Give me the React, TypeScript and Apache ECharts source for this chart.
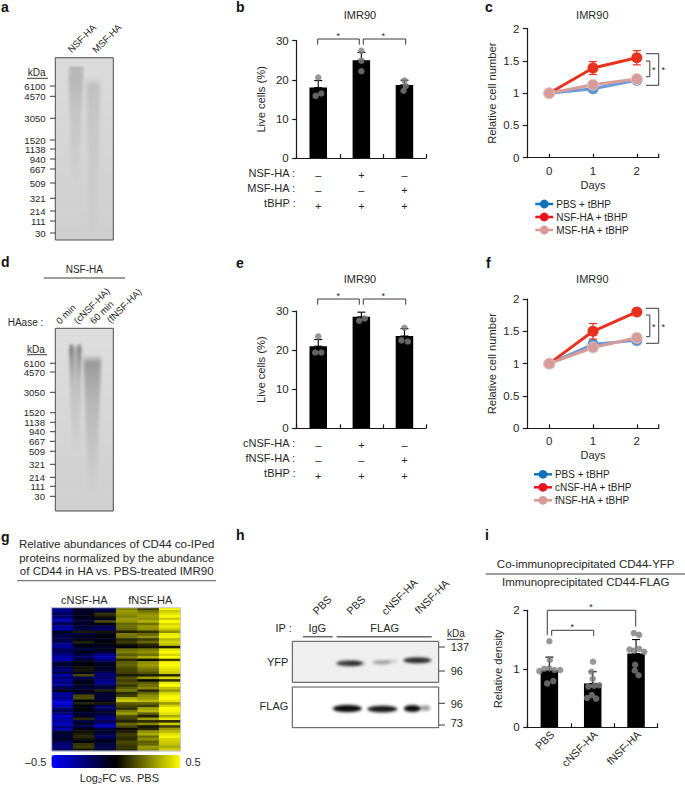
import React, { useEffect, useRef } from "react";
import * as echarts from "echarts";

const FONT = '"Liberation Sans", Arial, sans-serif';
const INK = "#262626";

// ---- panel b
const bCats = ["–\n–\n+", "+\n–\n+", "–\n+\n+"];
const bMeans = [18, 25, 18.7];
const bErr = [1.8, 2.0, 1.2];
const bDots = [[0, 20.6], [-0.06, 15.9], [0.07, 16.5], [1, 27.4], [1, 24.9], [1, 22.2], [2, 19.8], [2.03, 18.4], [1.98, 17.2]];
// ---- panel e
const eCats = ["–\n–\n+", "+\n–\n+", "–\n+\n+"];
const eMeans = [21, 28.5, 23.6];
const eErr = [1.7, 1.2, 1.9];
const eDots = [[0, 23.5], [-0.07, 19.4], [0.07, 19.4], [1.01, 30.2], [0.95, 27.5], [1.08, 28.1], [2, 25.7], [1.93, 22.5], [2.08, 22.2]];
// ---- panel c
const days = ["0", "1", "2"];
const cPbs = [1, 1.07, 1.2];
const cNsf = [1, 1.39, 1.55];
const cMsf = [1, 1.13, 1.22];
const cPbsErr = [0, 0.03, 0.03];
const cNsfErr = [0, 0.1, 0.11];
const cMsfErr = [0, 0.03, 0.03];
// ---- panel f
const fPbs = [1, 1.3, 1.36];
const fCnsf = [1, 1.5, 1.8];
const fFnsf = [1, 1.25, 1.4];
const fPbsErr = [0, 0.06, 0.04];
const fCnsfErr = [0, 0.12, 0.03];
const fFnsfErr = [0, 0.03, 0.03];
// ---- panel i
const iCats = ["PBS", "cNSF-HA", "fNSF-HA"];
const iMeans = [0.97, 0.75, 1.26];
const iErr = [0.23, 0.2, 0.24];
const iDots = [
  [0, 1.47], [0.01, 1.15], [-0.23, 0.96], [-0.12, 1.0], [0, 1.01], [0.12, 0.98], [0.25, 0.98], [-0.05, 0.75], [0.09, 0.79],
  [1.01, 1.12], [0.97, 0.95], [1, 0.83], [0.9, 0.7], [1.03, 0.71], [1.15, 0.72], [0.98, 0.55], [0.87, 0.5], [1.08, 0.49],
  [1.95, 1.61], [2.07, 1.58], [1.85, 1.33], [1.95, 1.31], [2.07, 1.34], [2.19, 1.29], [1.98, 1.07], [1.97, 0.97], [2.06, 0.89],
];
// ---- panel g heatmap, hundredths of log2FC, top row first
const hmC1 = [-24,-27,-18,-20,-32,-30,-14,-30,-34,-6,-12,-13,-14,-16,-28,-30,-16,-18,-26,-32,-34,-10,-11,-16,-24,-13,-32,-22,-30,-24,-28,-14,-6,-28,-32,-26,-38,-42,-36,-22,-16,-24,-38,-32,-30,-40,-24,-34,-12,-10,-11,-6,-16,-22,-24,-18];
const hmC2 = [-5,-8,-6,-5,-6,-10,-6,-12,-14,5,-12,-8,-5,6,-4,-6,-12,-5,-15,-20,-8,-3,-2,3,4,-6,14,-16,-6,-4,-8,-12,-5,-8,14,15,-4,6,-3,-2,-4,-10,-8,8,-12,-8,-14,-4,3,5,8,4,-2,10,12,4];
const hmC3 = [-18,-12,10,5,-6,14,-3,-15,-22,4,-5,-3,-6,-2,-3,-8,-5,-12,-28,-32,-24,-10,-5,-8,-6,-18,-22,-20,-25,-30,-15,-12,6,-8,-10,-12,-6,4,-18,-22,-8,-12,-20,-25,-15,-30,-35,-12,-8,-14,-20,-10,-6,-12,-16,-8];
const hmF1 = [25,30,28,25,30,28,20,22,20,6,24,22,8,12,4,-3,22,25,18,24,8,18,20,15,14,12,5,16,12,16,10,18,22,8,12,34,40,18,14,8,24,30,16,12,6,20,14,2,5,12,10,8,14,12,10,8];
const hmF2 = [12,22,28,30,28,34,22,30,28,10,20,28,12,20,8,4,24,28,22,34,2,28,30,26,22,16,6,30,2,18,22,26,8,20,28,30,36,20,12,32,36,18,6,30,8,26,4,8,28,34,22,28,18,20,30,26];
const hmF3 = [48,40,45,48,40,50,42,46,40,28,46,48,36,42,38,6,46,50,42,50,12,48,50,46,44,40,8,42,10,46,50,38,30,42,48,50,45,30,42,50,48,44,34,46,8,40,12,30,36,44,48,42,40,38,34,40];
const hmCols = [hmC1, hmC2, hmC3, hmF1, hmF2, hmF3];
const hmColNames = ["c1", "c2", "c3", "f1", "f2", "f3"];

// ---- gel markers
const kdaLabels = ["6100", "4570", "3050", "1520", "1138", "940", "667", "509", "321", "214", "111", "30"];
const kdaYa = [86, 96.3, 118.3, 140, 149, 159, 169, 183, 198.3, 211, 221, 233];
const kdaYd = [363.3, 372, 392.3, 412.7, 422.3, 431.7, 441.3, 451.3, 464.3, 477.3, 486.3, 496.3];

type Lane = { xl: number; xr: number; y0: number; xlb: number; xrb: number; y1: number; a: number; blur: number };

function paintLanes(w: number, h: number, lanes: Lane[], base: [string, string]) {
  const S = 3;
  const c = document.createElement("canvas");
  c.width = w * S;
  c.height = h * S;
  const x = c.getContext("2d")!;
  const bg = x.createLinearGradient(0, 0, 0, h * S);
  bg.addColorStop(0, base[0]);
  bg.addColorStop(1, base[1]);
  x.fillStyle = bg;
  x.fillRect(0, 0, w * S, h * S);
  for (const l of lanes) {
    const g = x.createLinearGradient(0, l.y0 * S, 0, l.y1 * S);
    g.addColorStop(0, "rgba(40,40,40,0)");
    g.addColorStop(0.05, `rgba(40,40,40,${l.a})`);
    g.addColorStop(0.35, `rgba(40,40,40,${l.a * 0.5})`);
    g.addColorStop(1, "rgba(40,40,40,0)");
    x.filter = `blur(${l.blur * S}px)`;
    x.fillStyle = g;
    x.beginPath();
    x.moveTo(l.xl * S, l.y0 * S);
    x.lineTo(l.xr * S, l.y0 * S);
    x.lineTo(l.xrb * S, l.y1 * S);
    x.lineTo(l.xlb * S, l.y1 * S);
    x.closePath();
    x.fill();
  }
  x.filter = "none";
  return c.toDataURL();
}

type Band = { cx: number; cy: number; rx: number; ry: number; a: number };
function paintBlot(w: number, h: number, bands: Band[], bgc: string) {
  const S = 3;
  const c = document.createElement("canvas");
  c.width = w * S;
  c.height = h * S;
  const x = c.getContext("2d")!;
  x.fillStyle = bgc;
  x.fillRect(0, 0, w * S, h * S);
  for (const b of bands) {
    x.filter = `blur(${1.5 * S}px)`;
    x.fillStyle = `rgba(10,10,10,${b.a})`;
    x.beginPath();
    x.ellipse(b.cx * S, b.cy * S, b.rx * S, b.ry * S, 0, 0, Math.PI * 2);
    x.fill();
  }
  x.filter = "none";
  return c.toDataURL();
}

const t = (px: number, py: number, text: string, o: any = {}) => ({
  type: "text",
  x: px,
  y: py,
  rotation: o.rot || 0,
  z: 20,
  style: {
    text,
    fill: o.fill || INK,
    align: o.align || "center",
    verticalAlign: "middle",
    font: `${o.weight || "normal"} ${o.size || 10}px ${FONT}`,
    rich: o.rich,
  },
});
const ln = (x1: number, y1: number, x2: number, y2: number, w = 1, c = "#3a3a3a") => ({
  type: "line",
  z: 20,
  shape: { x1, y1, x2, y2 },
  style: { stroke: c, lineWidth: w },
});
const bracket = (x1: number, x2: number, top: number, bottom: number) => [
  ln(x1, bottom, x1, top),
  ln(x1, top, x2, top),
  ln(x2, top, x2, bottom),
];
const sideBracket = (x1: number, x2: number, y1: number, y2: number) => [
  ln(x1, y1, x2, y1),
  ln(x2, y1, x2, y2),
  ln(x2, y2, x1, y2),
];
const img = (x: number, y: number, w: number, h: number, src: string) => ({
  type: "image",
  z: 5,
  x,
  y,
  style: { image: src, x: 0, y: 0, width: w, height: h },
});
const box = (x: number, y: number, w: number, h: number, c = "#4d4d4d") => ({
  type: "rect",
  z: 6,
  shape: { x, y, width: w, height: h },
  style: { fill: "none", stroke: c, lineWidth: 1 },
});

const errItem = (color: string, cap: number, width: number) => (_: any, api: any) => {
  const x = api.value(0);
  const lo = api.coord([x, api.value(1)]);
  const hi = api.coord([x, api.value(2)]);
  const l = (a: number[], b: number[]) => ({
    type: "line",
    shape: { x1: a[0], y1: a[1], x2: b[0], y2: b[1] },
    style: { stroke: color, lineWidth: width },
  });
  return {
    type: "group",
    children: [
      l(lo, hi),
      l([hi[0] - cap, hi[1]], [hi[0] + cap, hi[1]]),
      l([lo[0] - cap, lo[1]], [lo[0] + cap, lo[1]]),
    ],
  };
};

const axisLine = { show: true, onZero: false, lineStyle: { color: "#1a1a1a", width: 1.2 } };

export default function App() {
  const ref = useRef<HTMLDivElement>(null);
  useEffect(() => {
    document.body.style.margin = "0";
    const chart = echarts.init(ref.current!, undefined, { renderer: "svg" });

    const grids: any[] = [];
    const xAxes: any[] = [];
    const yAxes: any[] = [];
    const series: any[] = [];

    function panel(
      g: { left: number; top: number; width: number; height: number },
      cats: string[],
      y: { max: number; interval: number; name: string; gap: number },
      x: { align: boolean; name?: string; rotate?: number; margin: number; lineHeight?: number; size?: number; gap?: number; padding?: number[] }
    ) {
      const gi = grids.length;
      grids.push(g);
      const xi = xAxes.length;
      xAxes.push({
        type: "category",
        gridIndex: gi,
        data: cats,
        boundaryGap: true,
        axisLine,
        axisTick: { show: true, inside: true, length: 4, alignWithLabel: x.align, lineStyle: { color: "#1a1a1a", width: 1.2 } },
        axisLabel: {
          color: INK,
          fontFamily: FONT,
          fontSize: x.size || 11.5,
          margin: x.margin,
          rotate: x.rotate || 0,
          lineHeight: x.lineHeight,
          interval: 0,
          padding: x.padding,
        },
        name: x.name,
        nameLocation: "middle",
        nameGap: x.gap,
        nameTextStyle: { color: INK, fontFamily: FONT, fontSize: 11 },
      });
      xAxes.push({ type: "value", gridIndex: gi, min: -0.5, max: 2.5, show: false });
      const yi = yAxes.length;
      yAxes.push({
        type: "value",
        gridIndex: gi,
        min: 0,
        max: y.max,
        interval: y.interval,
        splitLine: { show: false },
        axisLine,
        axisTick: { show: true, length: 4.5, lineStyle: { color: "#1a1a1a", width: 1.2 } },
        axisLabel: { color: INK, fontFamily: FONT, fontSize: 11.5, margin: 8 },
        name: y.name,
        nameLocation: "middle",
        nameGap: y.gap,
        nameTextStyle: { color: INK, fontFamily: FONT, fontSize: 11.2 },
      });
      return { xi, vx: xi + 1, yi };
    }

    function bars(p: any, means: number[], errs: number[], dots: number[][], name: string, dot: number) {
      series.push({
        type: "bar",
        name,
        xAxisIndex: p.xi,
        yAxisIndex: p.yi,
        data: means,
        barWidth: 17.5,
        itemStyle: { color: "#000" },
        z: 2,
      });
      series.push({
        type: "custom",
        name: name + " SD",
        xAxisIndex: p.vx,
        yAxisIndex: p.yi,
        data: means.map((m, i) => [i, m, m + errs[i]]),
        renderItem: errItem("#000", 4, 1.1),
        clip: false,
        z: 3,
      });
      series.push({
        type: "scatter",
        name: name + " points",
        xAxisIndex: p.vx,
        yAxisIndex: p.yi,
        data: dots,
        symbolSize: dot,
        itemStyle: { color: "#7d7d7d" },
        z: 4,
      });
    }

    function lines(p: any, name: string, vals: number[], errs: number[], c: string, mk: string, z: number, border?: string) {
      series.push({
        type: "custom",
        name: name + " SD",
        xAxisIndex: p.vx,
        yAxisIndex: p.yi,
        data: vals.map((m, i) => [i, m - errs[i], m + errs[i]]),
        renderItem: errItem(c, 4, 1.2),
        clip: false,
        z,
      });
      series.push({
        type: "line",
        name,
        xAxisIndex: p.xi,
        yAxisIndex: p.yi,
        data: vals,
        symbol: "circle",
        symbolSize: 11,
        lineStyle: { color: c, width: 3 },
        itemStyle: { color: mk, borderColor: border || mk, borderWidth: border ? 1 : 0 },
        z,
      });
    }

    const BLUE = "#6d9ad8", BLUEM = "#5b90d2", RED = "#e8321f", PINK = "#d69c9a";
    const pb = panel({ left: 296.7, top: 40.7, width: 129.3, height: 117.3 }, bCats,
      { max: 30, interval: 10, name: "Live cells (%)", gap: 30 }, { align: false, margin: 9, lineHeight: 15.4, size: 11 });
    bars(pb, bMeans, bErr, bDots, "b", 6.5);
    const pc = panel({ left: 527.3, top: 28.7, width: 131.4, height: 129 }, days,
      { max: 2, interval: 0.5, name: "Relative cell number", gap: 30 }, { align: true, margin: 7, name: "Days", gap: 22 });
    lines(pc, "PBS + tBHP", cPbs, cPbsErr, BLUE, BLUEM, 3);
    lines(pc, "NSF-HA + tBHP", cNsf, cNsfErr, RED, RED, 4);
    lines(pc, "MSF-HA + tBHP", cMsf, cMsfErr, PINK, PINK, 5, "#e6c8c6");
    const pe = panel({ left: 296.7, top: 311, width: 129.3, height: 117.3 }, eCats,
      { max: 30, interval: 10, name: "Live cells (%)", gap: 30 }, { align: false, margin: 9, lineHeight: 15.4, size: 11 });
    bars(pe, eMeans, eErr, eDots, "e", 6.5);
    const pf = panel({ left: 527.3, top: 299, width: 131.4, height: 129.3 }, days,
      { max: 2, interval: 0.5, name: "Relative cell number", gap: 30 }, { align: true, margin: 7, name: "Days", gap: 21.5 });
    lines(pf, "PBS + tBHP", fPbs, fPbsErr, BLUE, BLUEM, 3);
    lines(pf, "cNSF-HA + tBHP", fCnsf, fCnsfErr, RED, RED, 4);
    lines(pf, "fNSF-HA + tBHP", fFnsf, fFnsfErr, PINK, PINK, 5, "#e6c8c6");
    const pi = panel({ left: 527.7, top: 610.3, width: 130, height: 117 }, iCats,
      { max: 2, interval: 1, name: "Relative density", gap: 24 }, { align: false, margin: 8, rotate: 45, size: 10.8, padding: [0, -4, 0, 0] });
    bars(pi, iMeans, iErr, iDots, "i", 6.5);

    // heatmap
    const gh = grids.length;
    grids.push({ left: 51.7, top: 607.7, width: 129, height: 143.3 });
    const hx = xAxes.length;
    xAxes.push({ type: "category", gridIndex: gh, data: hmColNames, show: false });
    const hy = yAxes.length;
    const rows = hmC1.map((_, i) => String(i));
    yAxes.push({ type: "category", gridIndex: gh, data: rows, show: false, inverse: true });
    const hIndex = series.length;
    series.push({
      type: "heatmap",
      name: "Log2FC",
      xAxisIndex: hx,
      yAxisIndex: hy,
      data: hmCols.flatMap((col, cx) => col.map((v, r) => [cx, r, v / 100])),
      itemStyle: { borderWidth: 0 },
      progressive: 0,
    });

    const legendOf = (top: number, left: number, names: string[]) => ({
      orient: "vertical",
      left,
      top,
      itemWidth: 18,
      itemHeight: 11,
      itemGap: 3,
      textStyle: { color: INK, fontFamily: FONT, fontSize: 10, padding: [0, 0, 0, -2] },
      padding: 0,
      selectedMode: false,
      data: names.map((name, i) => ({
        name,
        itemStyle: { color: ["#1272b8", "#e8141c", "#d89a98"][i], borderWidth: 0 },
        lineStyle: { color: ["#1272b8", "#e8141c", "#d89a98"][i], width: 2.5 },
      })),
    });

    // images
    const gelA = paintLanes(58, 182, [
      { xl: 13, xr: 28, y0: 12, xlb: 17, xrb: 23, y1: 130, a: 0.2, blur: 1.5 },
      { xl: 14, xr: 28, y0: 9, xlb: 14, xrb: 28, y1: 18, a: 0.3, blur: 1 },
      { xl: 31, xr: 45, y0: 20, xlb: 34, xrb: 41, y1: 182, a: 0.14, blur: 1.8 },
    ], ["#dcdcdc", "#cfcfcf"]);
    const gelD = paintLanes(58, 183, [
      { xl: 13, xr: 27, y0: 16, xlb: 17, xrb: 24, y1: 125, a: 0.28, blur: 1.3 },
      { xl: 14, xr: 18, y0: 15, xlb: 16, xrb: 18, y1: 60, a: 0.3, blur: 0.8 },
      { xl: 22, xr: 26, y0: 15, xlb: 22, xrb: 24, y1: 60, a: 0.25, blur: 0.8 },
      { xl: 28, xr: 46, y0: 27, xlb: 33, xrb: 41, y1: 165, a: 0.36, blur: 1.6 },
    ], ["#dedede", "#cfcfcf"]);
    const blotY = paintBlot(146.4, 41, [
      { cx: 57, cy: 22, rx: 13, ry: 2.8, a: 0.8 },
      { cx: 65, cy: 22, rx: 8, ry: 2, a: 0.3 },
      { cx: 89, cy: 21, rx: 9, ry: 2, a: 0.35 },
      { cx: 99, cy: 20, rx: 6, ry: 1.5, a: 0.18 },
      { cx: 125, cy: 19, rx: 14, ry: 3, a: 0.85 },
    ], "#efefef");
    const blotF = paintBlot(146.4, 40.7, [
      { cx: 55, cy: 21.5, rx: 14.5, ry: 3.6, a: 1 },
      { cx: 90, cy: 22, rx: 15, ry: 3.3, a: 0.95 },
      { cx: 120, cy: 21.5, rx: 8.5, ry: 3.4, a: 1 },
      { cx: 133, cy: 21, rx: 5, ry: 2.8, a: 0.4 },
    ], "#ffffff");

    const rowLabel = (x: number, y: number, s: string) => t(x, y, s, { align: "right", size: 11 });
    const g: any[] = [
      // letters
      ...[["a", 1, 7], ["b", 236, 7], ["c", 485, 7], ["d", 1, 262], ["e", 236, 263], ["f", 486, 263], ["g", 1, 537], ["h", 236, 535], ["i", 485, 535]].map(
        ([s, x, y]: any) => t(x, y, s, { align: "left", weight: "bold", size: 14, fill: "#111" })
      ),
      // titles
      t(360, 15, "IMR90", { size: 11 }), t(592.3, 15, "IMR90", { size: 11 }),
      t(360, 279, "IMR90", { size: 11 }), t(592.3, 279, "IMR90", { size: 11 }),
      // b table
      rowLabel(295, 172.7, "NSF-HA :"), rowLabel(295, 187.7, "MSF-HA :"), rowLabel(295.7, 203.3, "tBHP :"),
      rowLabel(295, 442.7, "cNSF-HA :"), rowLabel(295, 457.7, "fNSF-HA :"), rowLabel(295.7, 473.3, "tBHP :"),
      // b brackets
      ...bracket(317.7, 359.3, 39, 44.7), ...bracket(363.3, 405.7, 39, 44.7),
      t(338.3, 35.5, "*", { size: 9 }), t(383.3, 35.5, "*", { size: 9 }),
      ...bracket(317.7, 359.3, 299, 304.7), ...bracket(363.3, 405.7, 299, 304.7),
      t(338.3, 295.5, "*", { size: 9 }), t(383.3, 295.5, "*", { size: 9 }),
      // c brackets
      ...sideBracket(646, 658.7, 53.7, 85.3), ...sideBracket(646, 649.8, 61, 76.7),
      t(653.7, 69.5, "*", { size: 9 }), t(663.3, 69.5, "*", { size: 9 }),
      ln(658.7, 153.7, 658.7, 157.7, 1.2, "#1a1a1a"),
      // f brackets
      ...sideBracket(646, 658.7, 308.3, 343.3), ...sideBracket(646, 649.8, 315, 336.7),
      t(653.7, 327, "*", { size: 9 }), t(663.3, 327, "*", { size: 9 }),
      ln(658.7, 424.3, 658.7, 428.3, 1.2, "#1a1a1a"),
      // i header & brackets
      t(585.7, 564.3, "Co-immunoprecipitated CD44-YFP", { size: 11.5 }),
      ln(485.7, 574, 685, 574, 1),
      t(585.7, 582.3, "Immunoprecipitated CD44-FLAG", { size: 11.5 }),
      ln(547.3, 635, 547.3, 610.3), ln(547.3, 610.3, 635.7, 610.3), ln(635.7, 610.3, 635.7, 626.7),
      ln(551.7, 635.7, 551.7, 630.3), ln(551.7, 630.3, 593.7, 630.3), ln(593.7, 630.3, 593.7, 636),
      t(591, 607, "*", { size: 9 }), t(572.3, 626.5, "*", { size: 9 }),
      // a gel
      img(55.3, 57.7, 58, 182.3, gelA), box(55.3, 57.7, 58, 182.3),
      t(81.7, 38.3, "NSF-HA", { rot: Math.PI / 4, size: 9.5 }), t(106.7, 38.3, "MSF-HA", { rot: Math.PI / 4, size: 9.5 }),
      t(36.7, 72.7, "kDa", { size: 10 }), ln(27, 78.3, 48, 78.3, 1),
      ...kdaLabels.flatMap((s, i) => [t(45.7, kdaYa[i], s, { align: "right", size: 9.6 }), ln(50, kdaYa[i], 55.3, kdaYa[i], 1)]),
      // d gel
      img(55.3, 328.3, 58, 182.7, gelD), box(55.3, 328.3, 58, 182.7),
      t(84.3, 269, "NSF-HA", { size: 10 }), ln(44, 278, 125, 278, 1),
      t(43.3, 322.3, "HAase :", { align: "right", size: 10 }),
      t(65.7, 314, "0 min", { rot: Math.PI / 4, size: 9.5 }), t(91.7, 305.7, "(cNSF-HA)", { rot: Math.PI / 4, size: 9.5 }),
      t(101.7, 312.3, "60 min", { rot: Math.PI / 4, size: 9.5 }), t(124, 305.7, "(fNSF-HA)", { rot: Math.PI / 4, size: 9.5 }),
      t(36, 349, "kDa", { size: 10 }), ln(27, 354.7, 47, 354.7, 1),
      ...kdaLabels.flatMap((s, i) => [t(45, kdaYd[i], s, { align: "right", size: 9.6 }), ln(50, kdaYd[i], 55.3, kdaYd[i], 1)]),
      // g text
      t(116.7, 544.3, "Relative abundances of CD44 co-IPed", { size: 11.5 }),
      t(116.7, 558, "proteins normalized by the abundance", { size: 11.5 }),
      t(116.7, 571.3, "of CD44 in HA vs. PBS-treated IMR90", { size: 11.5 }),
      ln(17, 580.7, 216, 580.7, 1, "#555"),
      t(84.3, 600, "cNSF-HA", { size: 11 }), t(150.3, 600, "fNSF-HA", { size: 11 }),
      t(119.3, 778, "{a|Log}{b|2}{a|FC vs. PBS}", {
        size: 11,
        rich: {
          a: { font: `11px ${FONT}`, fill: INK },
          b: { font: `7.5px ${FONT}`, fill: INK, verticalAlign: "bottom", padding: [5, 0, 0, 0] },
        },
      }),
      box(51.7, 607.7, 129, 143.3, "#c9c9e6"),
      // h blots
      img(292.3, 641.3, 146.4, 41, blotY), box(292.3, 641.3, 146.4, 41),
      img(292.3, 687, 146.4, 40.7, blotF), box(292.3, 687, 146.4, 40.7),
      t(322, 605, "PBS", { rot: Math.PI / 4, size: 10.8 }), t(355.7, 605, "PBS", { rot: Math.PI / 4, size: 10.8 }),
      t(399.3, 596.7, "cNSF-HA", { rot: Math.PI / 4, size: 10.8 }), t(431.7, 596.7, "fNSF-HA", { rot: Math.PI / 4, size: 10.8 }),
      t(291.7, 627.7, "IP :", { align: "right", size: 11 }), t(317.3, 627.7, "IgG", { size: 11 }), t(384.7, 627.7, "FLAG", { size: 11 }),
      ln(303, 636.7, 332.7, 636.7, 1.5, "#666"), ln(336.7, 636.7, 431.7, 636.7, 1.5, "#666"),
      t(447, 633.3, "kDa", { align: "left", size: 10 }), ln(447, 639.3, 463, 639.3, 1),
      t(450.7, 647.3, "137", { align: "left", size: 11 }), t(450.7, 671, "96", { align: "left", size: 11 }),
      t(450.7, 703.7, "96", { align: "left", size: 11 }), t(450.7, 723, "73", { align: "left", size: 11 }),
      ln(438.7, 647, 445, 647, 1), ln(438.7, 671, 445, 671, 1), ln(438.7, 703.3, 445, 703.3, 1), ln(438.7, 725, 445, 725, 1),
      t(288.3, 662.3, "YFP", { align: "right", size: 11 }), t(288.3, 706, "FLAG", { align: "right", size: 11 }),
    ];

    chart.setOption({
      animation: false,
      textStyle: { fontFamily: FONT },
      grid: grids,
      xAxis: xAxes,
      yAxis: yAxes,
      series,
      legend: [
        legendOf(199, 534, ["PBS + tBHP", "NSF-HA + tBHP", "MSF-HA + tBHP"]),
        legendOf(469.3, 532.7, ["PBS + tBHP", "cNSF-HA + tBHP", "fNSF-HA + tBHP"]),
      ],
      visualMap: {
        type: "continuous",
        seriesIndex: hIndex,
        min: -0.5,
        max: 0.5,
        orient: "horizontal",
        left: 25,
        top: 755,
        itemWidth: 13,
        itemHeight: 129,
        text: ["0.5", "–0.5"],
        textGap: 5,
        padding: 0,
        calculable: false,
        hoverLink: false,
        inRange: { color: ["#0000ff", "#000000", "#ffff00"] },
        textStyle: { color: INK, fontFamily: FONT, fontSize: 11 },
      },
      graphic: g,
    });
    return () => chart.dispose();
  }, []);
  return <div ref={ref} style={{ position: "absolute", left: 0, top: 0, width: 685, height: 785 }} />;
}
